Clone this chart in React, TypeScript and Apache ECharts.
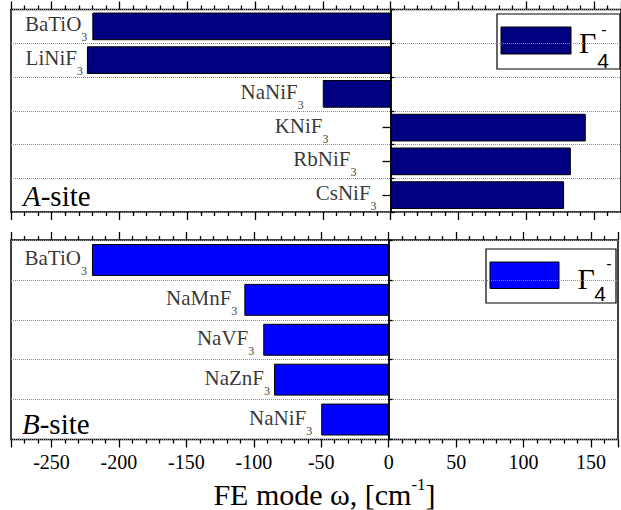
import React, { useEffect, useRef } from "react";
import * as echarts from "echarts";

// A-site series (ABF3 / BaTiO3 reference), FE mode frequency in cm^-1
const aSiteCompounds = ["BaTiO", "LiNiF", "NaNiF", "KNiF", "RbNiF", "CsNiF"];
const aSiteOmega = [-220, -224, -50, 144, 133, 128];

// B-site series
const bSiteCompounds = ["BaTiO", "NaMnF", "NaVF", "NaZnF", "NaNiF"];
const bSiteOmega = [-220, -107, -93, -85, -50];

// Formula subscript shared by all compounds
const formulaSubscript = "3";

// Labelled ticks on the frequency axis
const omegaTicks = [-250, -200, -150, -100, -50, 0, 50, 100, 150];

// Horizontal gap (px) between each compound label and its bar end / zero line
const aLabelGap = [5, 4, 19, 62, 34, 14];
const bLabelGap = [5, 7, 9, 4, 9];

const SERIF = "Liberation Serif";
const SANS = "Liberation Sans";

const X_MIN = -280;
const X_MAX = 170;

function valueAxis(gridIndex: number, position: "top" | "bottom", labelled: boolean) {
  return {
    type: "value",
    gridIndex,
    position,
    min: X_MIN,
    max: X_MAX,
    splitNumber: 9,
    axisLine: { show: false, onZero: false },
    axisTick: { show: true, inside: false, length: 8, lineStyle: { color: "#000", width: 1.3 } },
    minorTick: { show: true, splitNumber: 5, length: 4, lineStyle: { color: "#000", width: 1.3 } },
    splitLine: { show: false },
    axisLabel: {
      show: labelled,
      margin: 12,
      fontSize: 20,
      fontFamily: SERIF,
      color: "#000",
      formatter: (v: number) => (omegaTicks.includes(v) ? String(v) : ""),
    },
    ...(labelled
      ? {
          name: "{n|FE mode ω, [cm}{p|-1}{n|]}",
          nameLocation: "middle",
          nameGap: 36,
          nameTextStyle: {
            padding: [0, 0, 0, 20],
            rich: {
              n: { fontSize: 30, fontFamily: SERIF, color: "#000" },
              p: { fontSize: 17, fontFamily: SERIF, color: "#000", padding: [0, 0, 20, 0] },
            },
          },
        }
      : {}),
  };
}

function categoryAxes(gridIndex: number, data: string[]) {
  const line = { onZero: true, lineStyle: { color: "#000", width: 1.5 } };
  return [
    {
      type: "category",
      gridIndex,
      inverse: true,
      data,
      axisLine: line,
      axisTick: { show: true, inside: true, length: 4, interval: 0, lineStyle: { color: "#000", width: 1.3 } },
      axisLabel: { show: false },
      splitLine: { show: true, interval: 0, lineStyle: { color: "#8a8a8a", type: "dotted", width: 1 } },
    },
    {
      type: "category",
      gridIndex,
      inverse: true,
      data,
      axisLine: line,
      axisTick: {
        show: true,
        inside: true,
        length: 8,
        alignWithLabel: true,
        interval: 0,
        lineStyle: { color: "#000", width: 1.3 },
      },
      axisLabel: { show: false },
      splitLine: { show: false },
    },
  ];
}

const compoundRich = {
  m: { fontSize: 21, fontFamily: SERIF, color: "#000" },
  s: { fontSize: 12, fontFamily: SERIF, color: "#000", padding: [26, 0, 0, 0] },
};

function labelSeries(axisIndex: number, yIndex: number, names: string[], values: number[], gaps: number[]) {
  return {
    type: "scatter",
    xAxisIndex: axisIndex,
    yAxisIndex: yIndex,
    symbolSize: 0,
    silent: true,
    data: values.map((v, i) => ({
      value: [Math.min(v, 0), i],
      label: { distance: gaps[i] },
    })),
    label: {
      show: true,
      position: "left",
      offset: [0, -2],
      formatter: (p: any) => `{m|${names[p.dataIndex]}}{s|${formulaSubscript}}`,
      rich: compoundRich,
    },
  };
}

function legendBox(
  box: [number, number, number, number],
  swatch: [number, number, number, number],
  color: string,
  gamma: [number, number],
  sub: [number, number],
  sup: [number, number]
) {
  return {
    type: "group",
    children: [
      {
        type: "rect",
        shape: { x: box[0], y: box[1], width: box[2], height: box[3] },
        style: { fill: "#fff", stroke: "#000", lineWidth: 1.2 },
      },
      {
        type: "rect",
        shape: { x: swatch[0], y: swatch[1], width: swatch[2], height: swatch[3] },
        style: { fill: color, stroke: "#000", lineWidth: 1 },
      },
      {
        type: "text",
        style: { text: "Γ", x: gamma[0], y: gamma[1], fontSize: 30, fontFamily: SERIF, fill: "#000", verticalAlign: "middle" },
      },
      {
        type: "text",
        style: { text: "4", x: sub[0], y: sub[1], fontSize: 21, fontFamily: SANS, fill: "#000", align: "center", verticalAlign: "middle" },
      },
      {
        type: "text",
        style: { text: "-", x: sup[0], y: sup[1], fontSize: 16, fontFamily: SANS, fill: "#000", align: "center", verticalAlign: "middle" },
      },
    ],
  };
}

function siteLabel(letter: string, x: number, y: number) {
  return {
    type: "text",
    style: {
      text: `{i|${letter}}{r|-site}`,
      x,
      y,
      verticalAlign: "middle",
      rich: {
        i: { fontSize: 29, fontFamily: SERIF, fontStyle: "italic", color: "#000" },
        r: { fontSize: 29, fontFamily: SERIF, color: "#000" },
      },
    },
  };
}

export default function App() {
  const ref = useRef<HTMLDivElement>(null);

  useEffect(() => {
    if (!ref.current) return;
    const chart = echarts.init(ref.current, null, { renderer: "svg" });
    const yA = categoryAxes(0, aSiteCompounds);
    const yB = categoryAxes(1, bSiteCompounds);

    chart.setOption({
      animation: false,
      backgroundColor: "#fff",
      textStyle: { fontFamily: SERIF },
      grid: [
        { left: 11, top: 9.5, width: 618, height: 202.5, show: true, borderColor: "#000", borderWidth: 1.5 },
        { left: 11, top: 240, width: 618, height: 202.7, show: true, borderColor: "#000", borderWidth: 1.5 },
      ],
      xAxis: [valueAxis(0, "bottom", false), valueAxis(0, "top", false), valueAxis(1, "bottom", true), valueAxis(1, "top", false)],
      yAxis: [...yA, ...yB],
      series: [
        {
          type: "bar",
          name: "A-site Γ4-",
          xAxisIndex: 0,
          yAxisIndex: 0,
          data: aSiteOmega,
          barCategoryGap: "18%",
          itemStyle: { color: "#000080", borderColor: "#000", borderWidth: 1 },
        },
        {
          type: "bar",
          name: "B-site Γ4-",
          xAxisIndex: 2,
          yAxisIndex: 2,
          data: bSiteOmega,
          barCategoryGap: "20%",
          itemStyle: { color: "#0000ff", borderColor: "#000", borderWidth: 1 },
        },
        labelSeries(0, 0, aSiteCompounds, aSiteOmega, aLabelGap),
        labelSeries(2, 2, bSiteCompounds, bSiteOmega, bLabelGap),
      ],
      graphic: [
        legendBox([497, 14, 123, 55], [501, 27, 70, 27], "#000080", [579, 42.5], [603, 60.8], [604, 29.5]),
        legendBox([486, 249, 130, 54], [490, 262, 69, 26.5], "#0000ff", [577.5, 278.5], [600, 293.3], [609, 263.5]),
        siteLabel("A", 23, 196),
        siteLabel("B", 22, 423.5),
      ],
    });
    return () => chart.dispose();
  }, []);

  return <div ref={ref} style={{ position: "absolute", left: 0, top: 0, width: 621, height: 510 }} />;
}
